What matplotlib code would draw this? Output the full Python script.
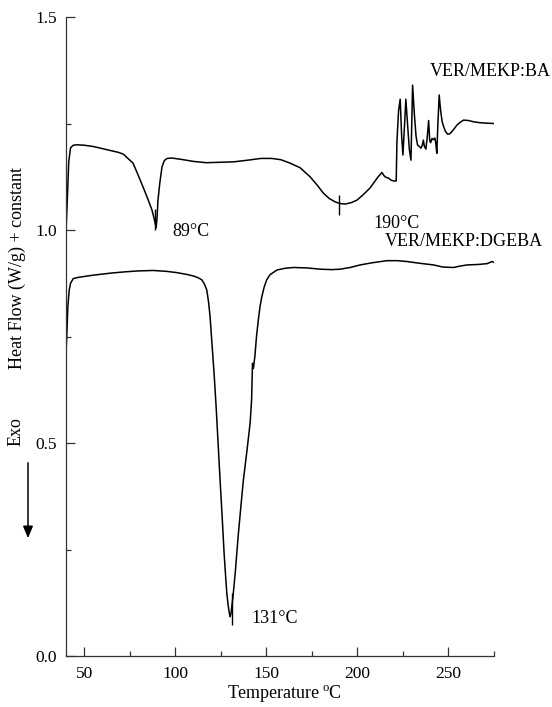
import matplotlib
matplotlib.use("Agg")
import matplotlib.pyplot as plt
from matplotlib.ticker import MultipleLocator

plt.rcParams["font.family"] = ["Liberation Serif", "DejaVu Serif"]
plt.rcParams["mathtext.fontset"] = "custom"
plt.rcParams["mathtext.rm"] = "Liberation Serif"

# DSC trace, VER/MEKP:BA (temperature in degC, heat flow in W/g + constant)
ba_temp = [40.0, 40.8, 41.5, 42.5, 44, 46, 50, 55, 60, 65, 69, 71.5, 73.5, 76.8, 79.5,
           82.3, 85, 87.2, 88.5, 89.5, 90.0, 90.5, 91.5, 92.7, 94, 95.5, 98, 103,
           110, 117, 125, 132, 140, 147, 153, 158, 163, 168.6, 174, 178, 181.2,
           184.5, 187.8, 190.5, 193.3, 196.5, 199.7, 203, 207, 211.4, 213.5, 214.5,
           215.5, 217, 218.5, 220, 221.3, 221.7, 222.6, 223.5, 224.3, 225.0, 225.8,
           226.6, 227.5, 228.5, 229.4, 229.9, 230.3, 231.3, 232.2, 233.0, 234.0,
           234.9, 235.7, 236.2, 236.8, 237.6, 238.4, 239.1, 239.7, 240.2, 241.0,
           241.8, 242.5, 243.0, 243.6, 244.2, 244.9, 245.7, 246.5, 247.3, 248.3,
           249.5, 250.8, 251.9, 253.2, 254.6, 256.5, 258.3, 261, 263.8, 267, 270, 275]
ba_flow = [0.995, 1.08, 1.16, 1.193, 1.199, 1.200, 1.199, 1.196, 1.191, 1.186, 1.182,
           1.178, 1.170, 1.157, 1.130, 1.101, 1.072, 1.047, 1.025, 1.005, 1.030, 1.07,
           1.11, 1.148, 1.163, 1.168, 1.169, 1.166, 1.161, 1.158, 1.159, 1.160, 1.164,
           1.168, 1.168, 1.165, 1.157, 1.146, 1.125, 1.105, 1.087, 1.074, 1.066, 1.062,
           1.061, 1.064, 1.070, 1.082, 1.099, 1.125, 1.135, 1.128, 1.124, 1.122, 1.117,
           1.115, 1.115, 1.207, 1.280, 1.307, 1.22, 1.176, 1.24, 1.307, 1.25, 1.19,
           1.164, 1.26, 1.340, 1.27, 1.22, 1.200, 1.196, 1.192, 1.200, 1.211, 1.196,
           1.190, 1.22, 1.257, 1.21, 1.205, 1.215, 1.212, 1.216, 1.205, 1.180, 1.25,
           1.317, 1.28, 1.255, 1.243, 1.232, 1.225, 1.226, 1.231, 1.238, 1.246, 1.253,
           1.258, 1.257, 1.254, 1.252, 1.251, 1.250]

# DSC trace, VER/MEKP:DGEBA
dg_temp = [40.0, 40.5, 41.0, 41.8, 42.5, 44, 47, 55, 65, 73, 80, 88, 95, 100.8, 106,
           110, 112.5, 114.6, 116, 117.3, 118.3, 119.1, 120.2, 121.3, 122.5, 123.5,
           124.6, 125.7, 126.8, 127.6, 128.3, 129.0, 129.7, 130.1, 130.6, 131.7,
           132.9, 134.5, 136, 137.4, 139.3, 141.1, 141.9, 142.4, 142.9, 143.7, 144.6,
           145.6, 146.6, 147.5, 148.8, 150.2, 152, 155.8, 160, 164.9, 172.3, 179.6,
           186, 190.5, 196, 201.5, 208, 216.2, 222, 227.2, 234, 241.8, 247, 252.8,
           256, 260.2, 266, 271.2, 273.9, 275]
dg_flow = [0.71, 0.76, 0.82, 0.86, 0.875, 0.886, 0.889, 0.894, 0.899, 0.902, 0.904,
           0.905, 0.903, 0.900, 0.896, 0.892, 0.888, 0.883, 0.873, 0.859, 0.83, 0.797,
           0.73, 0.664, 0.58, 0.50, 0.413, 0.33, 0.242, 0.19, 0.147, 0.12, 0.100,
           0.092, 0.10, 0.14, 0.194, 0.28, 0.35, 0.413, 0.48, 0.547, 0.601, 0.687,
           0.675, 0.703, 0.75, 0.789, 0.822, 0.843, 0.866, 0.883, 0.895, 0.906, 0.910,
           0.912, 0.911, 0.908, 0.907, 0.908, 0.912, 0.918, 0.923, 0.928, 0.928, 0.926,
           0.922, 0.918, 0.913, 0.912, 0.915, 0.918, 0.919, 0.921, 0.926, 0.924]

# Peak temperatures and the short vertical peak markers (low, high)
peak_temps = [89, 190, 131]
peak_marker_lo = [1.000, 1.035, 0.072]
peak_marker_hi = [1.050, 1.082, 0.147]
peak_labels = ["89°C", "190°C", "131°C"]
peak_label_xy = [(98.5, 0.997), (209.0, 1.016), (142.0, 0.089)]

series_labels = ["VER/MEKP:BA", "VER/MEKP:DGEBA"]
series_label_xy = [(240.0, 1.371), (215.0, 0.974)]

x_ticks = [50, 100, 150, 200, 250]
y_ticks = [0.0, 0.5, 1.0, 1.5]

fig = plt.figure(figsize=(5.52, 7.07), dpi=100)
ax = fig.add_axes([66 / 552, 1 - 656 / 707, (494 - 66) / 552, (656 - 17) / 707])

ax.plot(ba_temp, ba_flow, color="black", lw=1.1)
ax.plot(dg_temp, dg_flow, color="black", lw=1.1)
ax.vlines(peak_temps, peak_marker_lo, peak_marker_hi, color="black", lw=1.0)

for txt, (x, y) in zip(peak_labels, peak_label_xy):
    ax.text(x, y, txt, fontsize=13, ha="left", va="center")
for txt, (x, y) in zip(series_labels, series_label_xy):
    ax.text(x, y, txt, fontsize=13, ha="left", va="center", clip_on=False)

ax.set_xlim(40, 275)
ax.set_ylim(0, 1.5)
ax.set_xticks(x_ticks)
ax.set_yticks(y_ticks)
ax.yaxis.set_major_formatter(plt.FuncFormatter(lambda v, p: f"{v:.1f}"))
ax.xaxis.set_minor_locator(MultipleLocator(25))
ax.yaxis.set_minor_locator(MultipleLocator(0.25))

for side in ("top", "right"):
    ax.spines[side].set_visible(False)
for side in ("left", "bottom"):
    ax.spines[side].set_color("#333333")
    ax.spines[side].set_linewidth(0.9)

ax.tick_params(which="both", direction="in", color="#333333", width=0.9,
               labelsize=12.5, top=False, right=False)
ax.tick_params(which="major", length=6.5)
ax.tick_params(which="minor", length=3.5)
ax.tick_params(axis="x", which="major", pad=7)
ax.tick_params(axis="y", which="major", pad=6.5)

fig.text(284 / 552, 1 - 694 / 707, "Temperature$\\,^{\\rm o}$C", fontsize=13,
         ha="center", va="center")
fig.text(17 / 552, 1 - 268 / 707, "Heat Flow (W/g) + constant", fontsize=13,
         rotation=90, ha="center", va="center")
fig.text(16 / 552, 1 - 432 / 707, "Exo", fontsize=13, rotation=90,
         ha="center", va="center")
fig.patches.append(matplotlib.patches.FancyArrowPatch(
    (28 / 552, 1 - 460 / 707), (28 / 552, 1 - 541 / 707),
    transform=fig.transFigure, arrowstyle="-|>,head_length=0.6,head_width=0.25",
    mutation_scale=12, color="black", lw=1.1))

fig.savefig("out.png", dpi=100)
